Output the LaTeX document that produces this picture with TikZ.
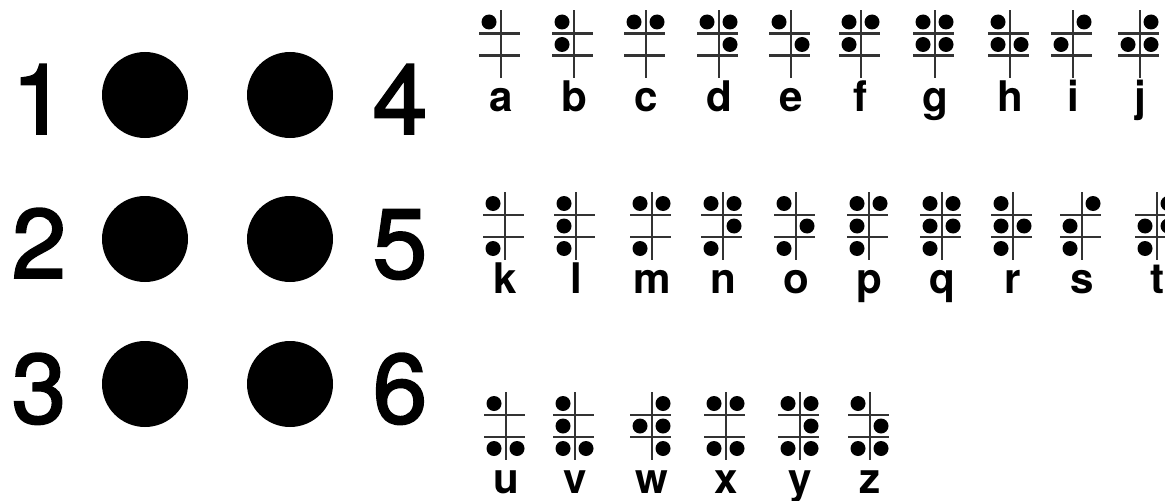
\documentclass[tikz,border=0pt]{standalone}
\usepackage{fontspec}
\setmainfont{TeX Gyre Heros}
\newfontfamily\digitfont[FakeBold=2]{TeX Gyre Heros}

\begin{document}
\begin{tikzpicture}[x=0.02cm, y=-0.02cm, every node/.style={inner sep=0pt}, grid/.style={draw=black!80, line width=1.3pt}, bigdot/.style={fill=black}, letter/.style={font=\bfseries\fontsize{24}{26}\selectfont, anchor=base}, num/.style={font=\digitfont\fontsize{56}{60}\selectfont, anchor=base}]
	\useasboundingbox (0,0) rectangle (1165,500);
	% the six numbered positions
	\foreach \y/\l/\r in {95/1/4, 239/2/5, 384/3/6} {
		\fill[bigdot] (145,\y) circle[radius=43];
		\fill[bigdot] (290,\y) circle[radius=43];
		\node[num] (n\l) at (39,\y+39) {\l};
		\node[num] (n\r) at (400,\y+39) {\r};
	}
	% alphabet cells: letter / x / middle row / raised dots
	\foreach \ch/\cx/\cy/\pts in {a/501/44.5/{1}, b/574/44.5/{1,2}, c/646/44.5/{1,4}, d/719/44.5/{1,4,5}, e/791/44.5/{1,5},
		f/861/44.5/{1,2,4}, g/935/44.5/{1,2,4,5}, h/1010/44.5/{1,2,5}, i/1073/44.5/{2,4}, j/1140/44.5/{2,4,5},
		k/505/226/{1,3}, l/576/226/{1,2,3}, m/652/226/{1,3,4}, n/723/226/{1,3,4,5}, o/796/226/{1,3,5},
		p/869/226/{1,2,3,4}, q/942/226/{1,2,3,4,5}, r/1013/226/{1,2,3,5}, s/1082/226/{2,3,4}, t/1157/226/{2,3,4,5},
		u/506/426/{1,3,6}, v/575/426/{1,2,3,6}, w/652/426/{2,4,5,6}, x/726/426/{1,3,4,6}, y/800/426/{1,3,4,5,6}, z/870/426/{1,3,5,6}} {
		\draw[grid] (\cx,\cy-34) -- (\cx,\cy+34);
		\draw[grid] (\cx-22,\cy-11) -- (\cx+19,\cy-11);
		\draw[grid] (\cx-22,\cy+11) -- (\cx+19,\cy+11);
		\foreach \p in \pts {
			\pgfmathsetmacro\dx{\p<4 ? -12 : 11}
			\pgfmathsetmacro\dy{(mod(\p-1,3)-1)*22.5}
			\fill (\cx+\dx,\cy+\dy) circle[radius=7.5];
		}
		\node[letter] (l-\ch) at (\cx,\cy+67) {\ch};
	}
\end{tikzpicture}
\end{document}
